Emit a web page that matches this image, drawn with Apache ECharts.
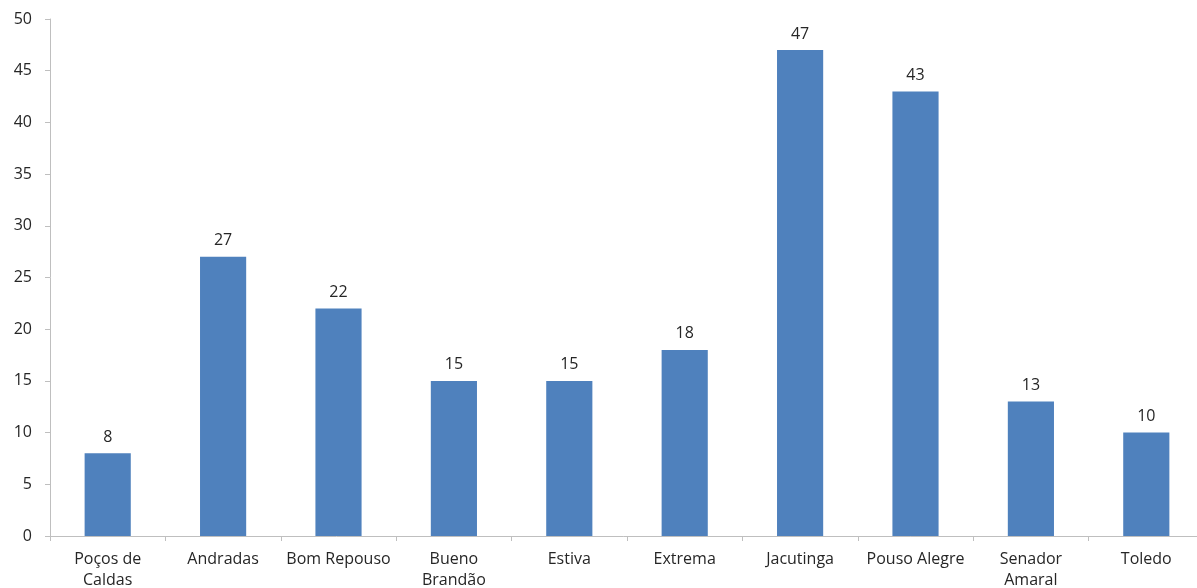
<!DOCTYPE html>
<html>
<head>
<meta charset="utf-8">
<script src="https://cdn.jsdelivr.net/npm/echarts@6/dist/echarts.min.js"></script>
<style>
  html, body { margin: 0; padding: 0; background: #ffffff; overflow: hidden; }
  #chart { width: 1197px; height: 588px; }
</style>
</head>
<body>
<div id="chart"></div>
<script>
// Municipalities along the category axis
var categories = ['Poços de\nCaldas', 'Andradas', 'Bom Repouso', 'Bueno\nBrandão', 'Estiva', 'Extrema', 'Jacutinga', 'Pouso Alegre', 'Senador\nAmaral', 'Toledo'];
// Count per municipality
var values = [8, 27, 22, 15, 15, 18, 47, 43, 13, 10];
// Value axis range
var yMin = 0, yMax = 50, yStep = 5;

var textColor = '#262626';
var fontFamily = '"Open Sans", "Noto Sans", sans-serif';

var chart = echarts.init(document.getElementById('chart'), null, { renderer: 'canvas' });
chart.setOption({
  animation: false,
  backgroundColor: '#ffffff',
  grid: { left: 50, right: -7, top: 19, bottom: 52, containLabel: false, outerBoundsMode: 'none' },
  xAxis: {
    type: 'category',
    data: categories,
    axisLine: { lineStyle: { color: '#BFBFBF', width: 1 } },
    axisTick: { show: true, length: 5, alignWithLabel: false, lineStyle: { color: '#BFBFBF' } },
    axisLabel: { color: textColor, fontSize: 16, fontFamily: fontFamily, margin: 13, lineHeight: 21, interval: 0 }
  },
  yAxis: {
    type: 'value',
    min: yMin, max: yMax, interval: yStep,
    axisLine: { show: true, lineStyle: { color: '#BFBFBF', width: 1 } },
    axisTick: { show: true, length: 5, lineStyle: { color: '#BFBFBF' } },
    splitLine: { show: false },
    axisLabel: { color: textColor, fontSize: 16, fontFamily: fontFamily, margin: 18 }
  },
  series: [{
    type: 'bar',
    data: values,
    barWidth: '40%',
    itemStyle: { color: '#4F81BD' },
    label: { show: true, position: 'top', distance: 8, color: textColor, fontSize: 16, fontFamily: fontFamily }
  }]
});
</script>
</body>
</html>
